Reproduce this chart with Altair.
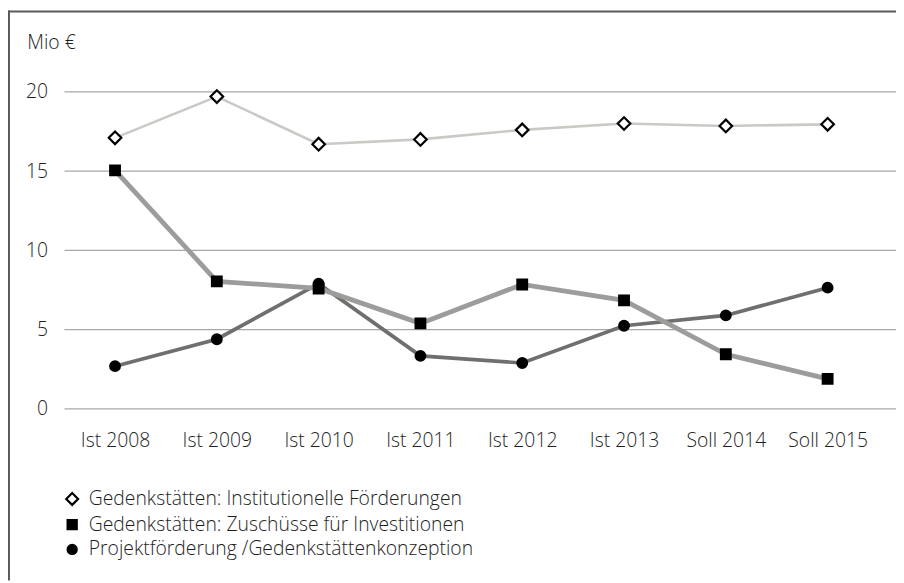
import altair as alt
import pandas as pd

years = ["Ist 2008", "Ist 2009", "Ist 2010", "Ist 2011", "Ist 2012", "Ist 2013", "Soll 2014", "Soll 2015"]
institutionell = [17.1, 19.7, 16.7, 17.0, 17.6, 18.0, 17.85, 17.95]
investitionen = [15.05, 8.05, 7.6, 5.4, 7.85, 6.85, 3.45, 1.9]
projekt = [2.7, 4.4, 7.9, 3.35, 2.9, 5.25, 5.9, 7.65]
y_ticks = [0, 5, 10, 15, 20]

s_inst = "Gedenkstätten: Institutionelle Förderungen"
s_inv = "Gedenkstätten: Zuschüsse für Investitionen"
s_proj = "Projektförderung /Gedenkstättenkonzeption"
legend_order = [s_inst, s_inv, s_proj]

rows = []
for name, vals in [(s_inst, institutionell), (s_proj, projekt), (s_inv, investitionen)]:
    for y, v in zip(years, vals):
        rows.append({"year": y, "value": v, "series": name})
df = pd.DataFrame(rows)
grid_df = pd.DataFrame({"value": y_ticks})

W, H = 831, 320
FONT = "Open Sans"
FS = 19.5
TXT = "#1e1e1e"

x_enc = alt.X("year:N", sort=years, scale=alt.Scale(type="point", range=[51, 770], padding=0),
              axis=alt.Axis(title=None, labelAngle=0, domain=False, ticks=False,
                            labelPadding=23, labelFontSize=FS, labelColor=TXT,
                            labelFont=FONT, labelFontWeight=300, grid=False))
y_scale = alt.Scale(domain=[0, 20], nice=False)
y_enc = alt.Y("value:Q", scale=y_scale,
              axis=alt.Axis(values=y_ticks, title="Mio €", titleAngle=0,
                            titleX=-38, titleY=-50, titleAlign="left", titleBaseline="middle",
                            titleFont=FONT, titleFontSize=FS, titleFontWeight=300,
                            titleColor=TXT,
                            domain=False, ticks=False, labelPadding=17, labelFontSize=FS,
                            labelColor=TXT, labelFont=FONT, labelFontWeight=300, grid=False))

grid = alt.Chart(grid_df).mark_rule(color="#a8a8a8", strokeWidth=1.3).encode(
    y=alt.Y("value:Q", scale=y_scale), x=alt.value(0), x2=alt.value(W + 8))

lines = alt.Chart(df).mark_line().encode(
    x=x_enc, y=y_enc,
    color=alt.Color("series:N", scale=alt.Scale(domain=[s_inst, s_proj, s_inv],
                                                range=["#c9c9c5", "#6f6f6d", "#9c9d9b"]), legend=None),
    strokeWidth=alt.StrokeWidth("series:N", scale=alt.Scale(domain=[s_inst, s_proj, s_inv],
                                                            range=[2.6, 4.8, 4.8]), legend=None),
    detail="series:N",
)

leg = alt.Legend(title=None, orient="none", legendX=-2, legendY=401,
                 labelFont=FONT, labelFontSize=FS, labelFontWeight=300, labelColor=TXT,
                 labelLimit=1000, symbolSize=85, rowPadding=4, labelOffset=7,
                 symbolStrokeWidth=2.2)

diamond = "M-1.3,0L0,-1.3L1.3,0L0,1.3Z"

points = alt.Chart(df).mark_point(filled=False, strokeWidth=2.2, opacity=1, size=95).encode(
    x=x_enc, y=y_enc,
    shape=alt.Shape("series:N", scale=alt.Scale(domain=legend_order, range=[diamond, "square", "circle"]),
                    legend=leg),
    fill=alt.Fill("series:N", scale=alt.Scale(domain=legend_order, range=["white", "black", "black"]),
                  legend=leg),
    stroke=alt.Stroke("series:N", scale=alt.Scale(domain=legend_order, range=["black", "black", "black"]),
                      legend=leg),
)

frame_top = alt.Chart(alt.Data(values=[{"a": 1}])).mark_rule(color="#5a5a5a", strokeWidth=2).encode(
    x=alt.value(-57), x2=alt.value(W + 8), y=alt.value(-81))
frame_left = alt.Chart(alt.Data(values=[{"a": 1}])).mark_rule(color="#5a5a5a", strokeWidth=2).encode(
    x=alt.value(-56), y=alt.value(-82), y2=alt.value(H + 173))

chart = alt.layer(frame_top, frame_left, grid, lines, points).properties(
    width=W, height=H,
    autosize=alt.AutoSizeParams(type="none"),
    padding={"left": 57, "top": 82, "right": 8, "bottom": 173},
).configure_view(stroke=None)

chart.save("out.html", embed_options={"renderer": "svg", "actions": False})
